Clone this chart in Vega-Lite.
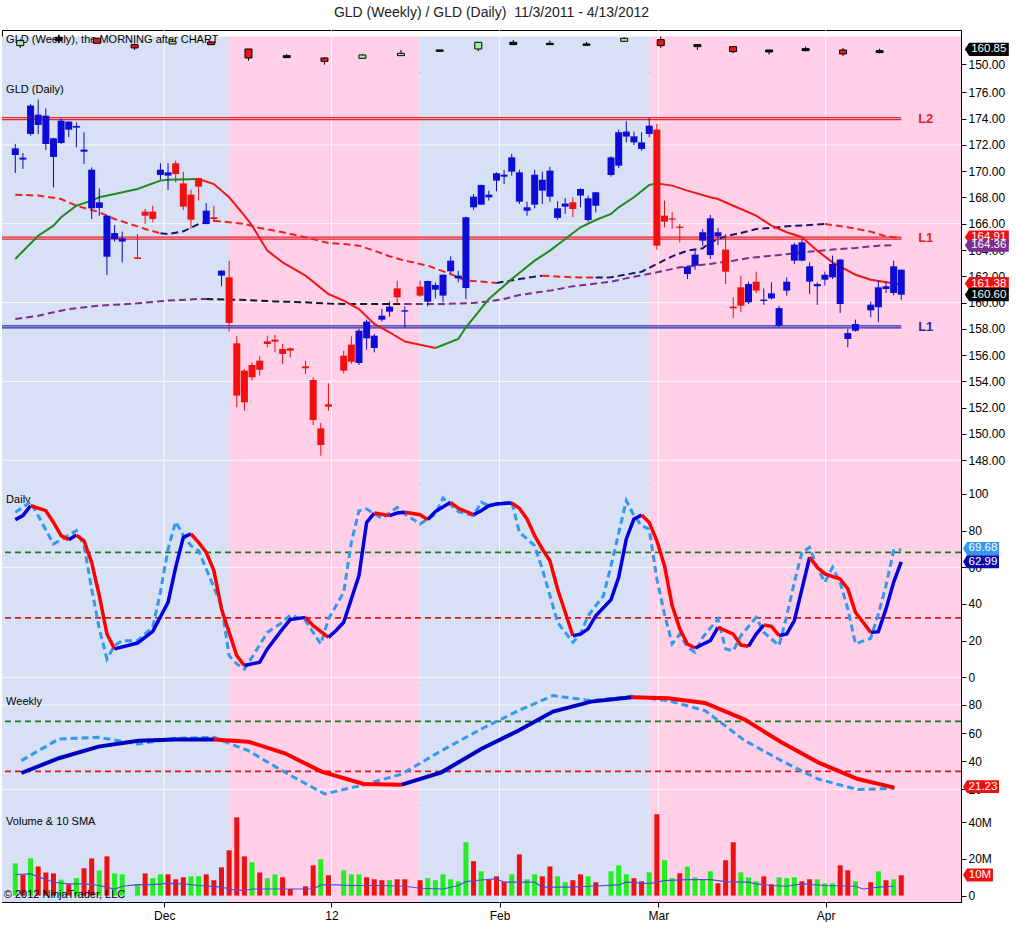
{
"$schema": "https://vega.github.io/schema/vega-lite/v6.json",
"background": "white",
"padding": {"left": 0, "top": 6, "right": 0, "bottom": 0},
"title": {"text": "GLD (Weekly) / GLD (Daily)\u00a0 11/3/2011 - 4/13/2012", "anchor": "middle", "frame": "group", "fontSize": 14, "fontWeight": "normal", "font": "Liberation Sans", "color": "#222222", "offset": 9, "dx": 10},
"bounds": "flush",
"spacing": 0,
"config": {
 "view": {"stroke": "#000000", "strokeWidth": 1},
 "axis": {"labelFont": "Liberation Sans", "labelFontSize": 12, "labelColor": "#000000", "domainColor": "#000000", "tickColor": "#000000", "tickSize": 5, "labelPadding": 2, "grid": false, "labelOverlap": false},
 "text": {"font": "Liberation Sans"}
},
"datasets": {
 "bands": [{"s": -1.74, "e": 28.1, "ph": "up"}, {"s": 28.1, "e": 52.9, "ph": "down"}, {"s": 52.9, "e": 83.0, "ph": "up"}, {"s": 83.0, "e": 123.82, "ph": "down"}],
 "months": [{"t": 19.5, "m": "Dec"}, {"t": 41.4, "m": "12"}, {"t": 63.4, "m": "Feb"}, {"t": 84.2, "m": "Mar"}, {"t": 106.1, "m": "Apr"}],
 "hgrid": [{"p": "price", "v": 148}, {"p": "price", "v": 154}, {"p": "price", "v": 160}, {"p": "price", "v": 166}, {"p": "price", "v": 172}, {"p": "d", "v": 0}, {"p": "d", "v": 60}, {"p": "w", "v": 20}, {"p": "w", "v": 80}],
 "labels": [{"p": "wk", "txt": "GLD (Weekly), the MORNING after CHART"}, {"p": "price", "txt": "GLD (Daily)"}, {"p": "d", "txt": "Daily"}, {"p": "w", "txt": "Weekly"}, {"p": "vol", "txt": "Volume & 10 SMA"}, {"p": "copy", "txt": "© 2012 NinjaTrader, LLC"}],
 "levels": [{"p": "price", "n": "L2", "v": 174.0, "k": "res"}, {"p": "price", "n": "L1", "v": 164.91, "k": "res"}, {"p": "price", "n": "L1", "v": 158.15, "k": "sup"}, {"p": "d", "n": "hi", "v": 68.2, "k": "ob"}, {"p": "d", "n": "lo", "v": 32.4, "k": "os"}, {"p": "w", "n": "hi", "v": 68.4, "k": "ob"}, {"p": "w", "n": "lo", "v": 32.8, "k": "os"}],
 "flags": [{"p": "wk", "v": 160.85, "txt": "160.85", "k": "close"}, {"p": "price", "v": 164.98, "txt": "164.91", "k": "sma2"}, {"p": "price", "v": 164.36, "txt": "164.36", "k": "sma3"}, {"p": "price", "v": 161.45, "txt": "161.38", "k": "sma1"}, {"p": "price", "v": 160.6, "txt": "160.60", "k": "close"}, {"p": "d", "v": 70.3, "txt": "69.68", "k": "stochD"}, {"p": "d", "v": 62.99, "txt": "62.99", "k": "stochK"}, {"p": "w", "v": 21.9, "txt": "21.23", "k": "wK"}, {"p": "vol", "v": 11.2, "txt": "10M", "k": "vol"}],
 "weekly": [
  {"wi": 0.65, "o": 163.55, "h": 168.47, "l": 161.83, "c": 167.24, "k": "up"},
  {"wi": 5.68, "o": 167.24, "h": 171.67, "l": 165.28, "c": 169.7, "k": "flat"},
  {"wi": 10.69, "o": 168.97, "h": 168.97, "l": 165.28, "c": 165.28, "k": "down"},
  {"wi": 15.62, "o": 164.29, "h": 165.28, "l": 160.36, "c": 161.83, "k": "down"},
  {"wi": 20.59, "o": 164.78, "h": 167.74, "l": 164.78, "c": 166.75, "k": "up"},
  {"wi": 25.64, "o": 166.26, "h": 166.26, "l": 164.29, "c": 164.29, "k": "down"},
  {"wi": 30.53, "o": 161.09, "h": 161.09, "l": 152.48, "c": 154.45, "k": "down"},
  {"wi": 35.54, "o": 156.17, "h": 157.4, "l": 154.7, "c": 154.7, "k": "flat"},
  {"wi": 40.48, "o": 154.45, "h": 154.94, "l": 149.53, "c": 151.99, "k": "down"},
  {"wi": 45.45, "o": 154.21, "h": 157.4, "l": 154.21, "c": 156.67, "k": "up"},
  {"wi": 50.5, "o": 156.17, "h": 160.36, "l": 156.17, "c": 157.9, "k": "up"},
  {"wi": 55.56, "o": 159.37, "h": 160.36, "l": 159.37, "c": 160.36, "k": "flat"},
  {"wi": 60.62, "o": 161.09, "h": 166.01, "l": 159.37, "c": 166.01, "k": "up"},
  {"wi": 65.2, "o": 164.29, "h": 167.74, "l": 164.29, "c": 166.01, "k": "flat"},
  {"wi": 69.99, "o": 164.29, "h": 167.24, "l": 164.29, "c": 165.28, "k": "flat"},
  {"wi": 74.79, "o": 163.8, "h": 166.26, "l": 163.8, "c": 164.78, "k": "flat"},
  {"wi": 79.72, "o": 166.75, "h": 169.7, "l": 166.75, "c": 168.97, "k": "up"},
  {"wi": 84.51, "o": 167.98, "h": 170.2, "l": 161.83, "c": 163.55, "k": "down"},
  {"wi": 89.31, "o": 164.29, "h": 164.29, "l": 160.36, "c": 162.82, "k": "flat"},
  {"wi": 93.98, "o": 162.82, "h": 162.82, "l": 157.9, "c": 159.13, "k": "down"},
  {"wi": 98.69, "o": 160.36, "h": 160.36, "l": 156.91, "c": 158.88, "k": "flat"},
  {"wi": 103.48, "o": 159.86, "h": 162.82, "l": 159.37, "c": 161.34, "k": "flat"},
  {"wi": 108.37, "o": 160.36, "h": 161.83, "l": 155.93, "c": 157.4, "k": "down"},
  {"wi": 113.16, "o": 159.86, "h": 161.34, "l": 157.9, "c": 158.39, "k": "flat"}
 ],
 "daily": [
  {"i":0,"o":171.23,"h":172.07,"l":169.86,"c":171.74,"sg":"b","vol":17.6,"vd":"g"},
  {"i":1,"o":170.88,"h":171.38,"l":170.17,"c":171.03,"sg":"b","vol":11.3,"vd":"r"},
  {"i":2,"o":172.83,"h":175.1,"l":172.7,"c":174.99,"sg":"b","vol":20.3,"vd":"g"},
  {"i":3,"o":173.51,"h":175.44,"l":172.83,"c":174.3,"sg":"b","vol":15.9,"vd":"r"},
  {"i":4,"o":172.07,"h":174.78,"l":171.61,"c":174.22,"sg":"b","vol":12.6,"vd":"r"},
  {"i":5,"o":171.08,"h":172.55,"l":168.77,"c":172.5,"sg":"b","vol":12.1,"vd":"r"},
  {"i":6,"o":172.14,"h":174.02,"l":172.07,"c":173.84,"sg":"b","vol":8.7,"vd":"g"},
  {"i":7,"o":173.16,"h":173.8,"l":172.58,"c":173.77,"sg":"b","vol":6.2,"vd":"r"},
  {"i":8,"o":173.31,"h":173.72,"l":171.81,"c":173.44,"sg":"b","vol":9.5,"vd":"g"},
  {"i":9,"o":171.48,"h":172.96,"l":170.55,"c":171.64,"sg":"b","vol":14.9,"vd":"r"},
  {"i":10,"o":167.17,"h":170.29,"l":166.36,"c":170.11,"sg":"b","vol":20.3,"vd":"r"},
  {"i":11,"o":167.2,"h":168.69,"l":166.61,"c":167.63,"sg":"b","vol":13.8,"vd":"g"},
  {"i":12,"o":163.49,"h":166.66,"l":162.1,"c":166.61,"sg":"b","vol":21.4,"vd":"r"},
  {"i":13,"o":164.84,"h":165.9,"l":164.64,"c":165.29,"sg":"b","vol":12.1,"vd":"g"},
  {"i":14,"o":164.64,"h":165.4,"l":163.06,"c":164.89,"sg":"b","vol":11.6,"vd":"g"},
  {"i":16,"o":163.44,"h":165.22,"l":163.3,"c":163.32,"sg":"s","vol":6.2,"vd":"g"},
  {"i":17,"o":166.92,"h":167.12,"l":165.98,"c":166.61,"sg":"s","vol":12.1,"vd":"r"},
  {"i":18,"o":166.92,"h":167.37,"l":166.11,"c":166.36,"sg":"s","vol":9.5,"vd":"g"},
  {"i":19,"o":169.71,"h":170.6,"l":169.35,"c":170.11,"sg":"b","vol":11.6,"vd":"g"},
  {"i":20,"o":169.66,"h":170.6,"l":168.57,"c":169.91,"sg":"b","vol":11.6,"vd":"r"},
  {"i":21,"o":170.6,"h":170.8,"l":169.15,"c":169.78,"sg":"s","vol":8.9,"vd":"r"},
  {"i":22,"o":169.07,"h":169.96,"l":167.05,"c":167.3,"sg":"s","vol":10.0,"vd":"r"},
  {"i":23,"o":168.21,"h":168.59,"l":165.6,"c":166.31,"sg":"s","vol":10.5,"vd":"g"},
  {"i":24,"o":169.46,"h":169.5,"l":167.76,"c":168.82,"sg":"s","vol":10.5,"vd":"g"},
  {"i":25,"o":165.98,"h":167.58,"l":165.95,"c":166.99,"sg":"b","vol":11.6,"vd":"r"},
  {"i":26,"o":166.49,"h":167.37,"l":166.16,"c":166.36,"sg":"s","vol":8.4,"vd":"r"},
  {"i":27,"o":162.05,"h":162.45,"l":161.24,"c":162.43,"sg":"b","vol":15.4,"vd":"r"},
  {"i":28,"o":161.92,"h":163.19,"l":157.79,"c":158.45,"sg":"s","vol":24.7,"vd":"r"},
  {"i":29,"o":156.9,"h":157.43,"l":152.03,"c":152.92,"sg":"s","vol":42.7,"vd":"r"},
  {"i":30,"o":154.82,"h":154.94,"l":151.77,"c":152.41,"sg":"s","vol":21.4,"vd":"r"},
  {"i":31,"o":155.25,"h":155.45,"l":154.06,"c":154.31,"sg":"s","vol":18.2,"vd":"g"},
  {"i":32,"o":155.58,"h":155.91,"l":154.44,"c":154.89,"sg":"s","vol":12.6,"vd":"r"},
  {"i":33,"o":157.05,"h":157.48,"l":156.59,"c":156.85,"sg":"s","vol":9.5,"vd":"g"},
  {"i":34,"o":157.18,"h":157.56,"l":156.21,"c":157.03,"sg":"s","vol":11.6,"vd":"g"},
  {"i":35,"o":156.47,"h":156.85,"l":155.33,"c":156.09,"sg":"s","vol":10.0,"vd":"r"},
  {"i":36,"o":156.52,"h":156.59,"l":155.83,"c":156.34,"sg":"s","vol":3.6,"vd":"r"},
  {"i":38,"o":155.15,"h":155.58,"l":154.56,"c":155.0,"sg":"s","vol":5.1,"vd":"r"},
  {"i":39,"o":154.11,"h":154.31,"l":150.68,"c":151.06,"sg":"s","vol":16.5,"vd":"r"},
  {"i":40,"o":150.43,"h":150.84,"l":148.35,"c":149.16,"sg":"s","vol":19.8,"vd":"g"},
  {"i":41,"o":152.26,"h":153.85,"l":151.77,"c":152.08,"sg":"s","vol":11.1,"vd":"r"},
  {"i":43,"o":155.96,"h":156.34,"l":154.61,"c":154.82,"sg":"s","vol":13.8,"vd":"g"},
  {"i":44,"o":156.8,"h":157.43,"l":155.33,"c":155.5,"sg":"s","vol":11.6,"vd":"g"},
  {"i":45,"o":155.4,"h":157.99,"l":155.25,"c":157.86,"sg":"b","vol":11.6,"vd":"g"},
  {"i":46,"o":157.28,"h":158.7,"l":156.42,"c":158.55,"sg":"b","vol":10.0,"vd":"r"},
  {"i":47,"o":156.54,"h":157.61,"l":156.21,"c":157.48,"sg":"b","vol":8.9,"vd":"r"},
  {"i":48,"o":158.7,"h":159.51,"l":158.55,"c":159.0,"sg":"b","vol":8.4,"vd":"r"},
  {"i":49,"o":159.31,"h":160.07,"l":158.93,"c":159.69,"sg":"b","vol":8.4,"vd":"g"},
  {"i":50,"o":161.08,"h":161.67,"l":159.89,"c":160.4,"sg":"s","vol":8.9,"vd":"r"},
  {"i":51,"o":159.31,"h":159.71,"l":158.12,"c":159.41,"sg":"b","vol":8.9,"vd":"r"},
  {"i":53,"o":161.21,"h":161.67,"l":160.45,"c":160.53,"sg":"s","vol":8.4,"vd":"r"},
  {"i":54,"o":160.07,"h":161.66,"l":159.71,"c":161.64,"sg":"b","vol":9.5,"vd":"g"},
  {"i":55,"o":160.98,"h":161.54,"l":160.32,"c":161.34,"sg":"b","vol":8.4,"vd":"g"},
  {"i":56,"o":160.53,"h":162.14,"l":160.02,"c":162.12,"sg":"b","vol":11.6,"vd":"g"},
  {"i":57,"o":162.38,"h":163.52,"l":162.25,"c":163.19,"sg":"b","vol":8.9,"vd":"g"},
  {"i":58,"o":161.84,"h":162.43,"l":161.54,"c":162.05,"sg":"b","vol":7.8,"vd":"g"},
  {"i":59,"o":161.11,"h":166.54,"l":160.27,"c":166.49,"sg":"b","vol":29.1,"vd":"g"},
  {"i":60,"o":167.25,"h":168.26,"l":167.07,"c":168.06,"sg":"b","vol":18.8,"vd":"r"},
  {"i":61,"o":167.45,"h":168.97,"l":167.43,"c":168.95,"sg":"b","vol":13.3,"vd":"g"},
  {"i":62,"o":168.01,"h":168.52,"l":167.76,"c":168.21,"sg":"b","vol":8.5,"vd":"r"},
  {"i":63,"o":169.28,"h":169.91,"l":168.47,"c":169.84,"sg":"b","vol":10.5,"vd":"r"},
  {"i":64,"o":169.58,"h":170.11,"l":169.02,"c":169.73,"sg":"b","vol":7.6,"vd":"r"},
  {"i":65,"o":169.96,"h":171.31,"l":169.66,"c":171.05,"sg":"b","vol":11.6,"vd":"g"},
  {"i":66,"o":167.68,"h":170.11,"l":167.5,"c":169.91,"sg":"b","vol":22.5,"vd":"r"},
  {"i":67,"o":166.99,"h":167.68,"l":166.61,"c":167.25,"sg":"b","vol":8.9,"vd":"g"},
  {"i":68,"o":167.45,"h":170.11,"l":167.17,"c":169.73,"sg":"b","vol":11.6,"vd":"g"},
  {"i":69,"o":168.52,"h":169.96,"l":167.5,"c":169.35,"sg":"b","vol":10.5,"vd":"r"},
  {"i":70,"o":168.06,"h":170.34,"l":167.68,"c":170.04,"sg":"b","vol":15.9,"vd":"r"},
  {"i":71,"o":166.44,"h":167.71,"l":166.31,"c":167.17,"sg":"b","vol":10.5,"vd":"g"},
  {"i":72,"o":167.3,"h":167.96,"l":166.74,"c":167.53,"sg":"b","vol":7.3,"vd":"g"},
  {"i":73,"o":167.63,"h":168.01,"l":166.49,"c":167.12,"sg":"s","vol":8.4,"vd":"r"},
  {"i":74,"o":168.14,"h":168.69,"l":167.25,"c":168.64,"sg":"b","vol":11.6,"vd":"r"},
  {"i":75,"o":166.28,"h":168.14,"l":166.16,"c":167.93,"sg":"b","vol":10.5,"vd":"g"},
  {"i":76,"o":167.37,"h":168.42,"l":166.87,"c":168.39,"sg":"b","vol":7.3,"vd":"r"},
  {"i":78,"o":169.71,"h":171.13,"l":169.58,"c":171.05,"sg":"b","vol":13.3,"vd":"g"},
  {"i":79,"o":170.42,"h":173.16,"l":170.22,"c":172.96,"sg":"b","vol":16.5,"vd":"g"},
  {"i":80,"o":172.63,"h":173.79,"l":172.19,"c":173.01,"sg":"b","vol":11.6,"vd":"g"},
  {"i":81,"o":172.19,"h":173.01,"l":171.99,"c":172.65,"sg":"b","vol":9.5,"vd":"r"},
  {"i":82,"o":171.69,"h":172.96,"l":171.56,"c":172.19,"sg":"b","vol":7.8,"vd":"r"},
  {"i":83,"o":172.83,"h":174.1,"l":172.58,"c":173.46,"sg":"b","vol":12.7,"vd":"g"},
  {"i":84,"o":173.16,"h":173.59,"l":164.03,"c":164.33,"sg":"s","vol":44.4,"vd":"r"},
  {"i":85,"o":166.61,"h":167.76,"l":165.73,"c":166.16,"sg":"s","vol":19.3,"vd":"g"},
  {"i":86,"o":166.41,"h":166.87,"l":165.6,"c":166.31,"sg":"s","vol":9.5,"vd":"g"},
  {"i":87,"o":165.78,"h":165.98,"l":164.58,"c":165.68,"sg":"s","vol":12.2,"vd":"r"},
  {"i":88,"o":162.17,"h":162.81,"l":161.79,"c":162.73,"sg":"b","vol":15.9,"vd":"g"},
  {"i":89,"o":162.81,"h":164.0,"l":162.5,"c":163.65,"sg":"b","vol":10.0,"vd":"g"},
  {"i":90,"o":164.71,"h":165.6,"l":164.33,"c":165.35,"sg":"b","vol":8.9,"vd":"g"},
  {"i":91,"o":163.62,"h":166.66,"l":163.32,"c":166.41,"sg":"b","vol":13.3,"vd":"g"},
  {"i":92,"o":165.04,"h":165.68,"l":164.38,"c":165.35,"sg":"b","vol":6.7,"vd":"r"},
  {"i":93,"o":164.03,"h":165.22,"l":161.41,"c":162.35,"sg":"s","vol":19.3,"vd":"r"},
  {"i":94,"o":159.69,"h":160.4,"l":158.83,"c":159.56,"sg":"s","vol":29.1,"vd":"r"},
  {"i":95,"o":161.16,"h":162.05,"l":159.26,"c":159.76,"sg":"s","vol":12.7,"vd":"g"},
  {"i":96,"o":160.02,"h":161.59,"l":159.89,"c":161.41,"sg":"b","vol":10.0,"vd":"g"},
  {"i":97,"o":161.59,"h":162.35,"l":160.73,"c":160.91,"sg":"s","vol":7.8,"vd":"g"},
  {"i":98,"o":160.12,"h":161.08,"l":159.82,"c":160.22,"sg":"b","vol":10.5,"vd":"r"},
  {"i":99,"o":160.32,"h":161.54,"l":160.22,"c":160.7,"sg":"b","vol":6.2,"vd":"r"},
  {"i":100,"o":158.24,"h":159.76,"l":158.12,"c":159.58,"sg":"b","vol":10.0,"vd":"g"},
  {"i":101,"o":160.91,"h":161.92,"l":160.53,"c":161.59,"sg":"b","vol":9.5,"vd":"g"},
  {"i":102,"o":163.19,"h":164.53,"l":162.94,"c":164.41,"sg":"b","vol":10.0,"vd":"g"},
  {"i":103,"o":163.19,"h":164.84,"l":163.14,"c":164.58,"sg":"b","vol":7.8,"vd":"r"},
  {"i":104,"o":161.59,"h":163.06,"l":160.65,"c":162.76,"sg":"b","vol":8.9,"vd":"r"},
  {"i":105,"o":161.24,"h":161.54,"l":159.82,"c":161.41,"sg":"b","vol":8.9,"vd":"g"},
  {"i":106,"o":161.74,"h":162.35,"l":161.29,"c":162.12,"sg":"b","vol":6.7,"vd":"g"},
  {"i":107,"o":161.92,"h":163.57,"l":161.79,"c":162.94,"sg":"b","vol":6.7,"vd":"g"},
  {"i":108,"o":159.89,"h":163.32,"l":159.21,"c":163.27,"sg":"b","vol":16.5,"vd":"r"},
  {"i":109,"o":157.23,"h":157.99,"l":156.59,"c":157.68,"sg":"b","vol":13.8,"vd":"r"},
  {"i":110,"o":157.86,"h":158.7,"l":157.79,"c":158.37,"sg":"b","vol":7.8,"vd":"g"},
  {"i":112,"o":159.41,"h":160.07,"l":158.88,"c":159.84,"sg":"b","vol":7.3,"vd":"r"},
  {"i":113,"o":159.64,"h":161.67,"l":158.5,"c":161.16,"sg":"b","vol":13.3,"vd":"g"},
  {"i":114,"o":161.03,"h":161.54,"l":160.73,"c":161.24,"sg":"b","vol":8.4,"vd":"r"},
  {"i":115,"o":160.73,"h":163.19,"l":160.55,"c":162.76,"sg":"b","vol":8.9,"vd":"g"},
  {"i":116,"o":162.5,"h":162.52,"l":160.22,"c":160.6,"sg":"b","vol":11.1,"vd":"r"}
 ],
 "ma": [
  {"m":1,"s":1,"t":"u","i":0,"v":163.32},{"m":1,"s":1,"t":"u","i":3,"v":165.09},{"m":1,"s":1,"t":"u","i":5,"v":165.85},{"m":1,"s":1,"t":"u","i":6,"v":166.49},{"m":1,"s":1,"t":"u","i":8,"v":167.37},{"m":1,"s":1,"t":"u","i":10,"v":167.76},{"m":1,"s":1,"t":"u","i":11,"v":168.01},{"m":1,"s":1,"t":"u","i":13,"v":168.26},{"m":1,"s":1,"t":"u","i":16,"v":168.64},{"m":1,"s":1,"t":"u","i":19,"v":169.28},{"m":1,"s":1,"t":"u","i":20,"v":169.35},{"m":1,"s":1,"t":"u","i":24,"v":169.4},
  {"m":1,"s":2,"t":"d","i":24,"v":169.4},{"m":1,"s":2,"t":"d","i":26,"v":169.02},{"m":1,"s":2,"t":"d","i":28,"v":168.01},{"m":1,"s":2,"t":"d","i":30,"v":166.61},{"m":1,"s":2,"t":"d","i":31,"v":165.85},{"m":1,"s":2,"t":"d","i":33,"v":163.95},{"m":1,"s":2,"t":"d","i":35,"v":163.06},{"m":1,"s":2,"t":"d","i":38,"v":162.05},{"m":1,"s":2,"t":"d","i":41,"v":160.65},{"m":1,"s":2,"t":"d","i":43,"v":160.15},{"m":1,"s":2,"t":"d","i":45,"v":159.51},{"m":1,"s":2,"t":"d","i":47,"v":158.37},{"m":1,"s":2,"t":"d","i":49,"v":157.74},{"m":1,"s":2,"t":"d","i":51,"v":157.03},{"m":1,"s":2,"t":"d","i":55,"v":156.54},
  {"m":1,"s":3,"t":"u","i":55,"v":156.54},{"m":1,"s":3,"t":"u","i":58,"v":157.23},{"m":1,"s":3,"t":"u","i":59,"v":158.12},{"m":1,"s":3,"t":"u","i":62,"v":160.27},{"m":1,"s":3,"t":"u","i":65,"v":161.79},{"m":1,"s":3,"t":"u","i":68,"v":163.19},{"m":1,"s":3,"t":"u","i":70,"v":163.95},{"m":1,"s":3,"t":"u","i":72,"v":164.84},{"m":1,"s":3,"t":"u","i":74,"v":165.73},{"m":1,"s":3,"t":"u","i":76,"v":166.28},{"m":1,"s":3,"t":"u","i":78,"v":166.74},{"m":1,"s":3,"t":"u","i":79,"v":167.25},{"m":1,"s":3,"t":"u","i":81,"v":168.01},{"m":1,"s":3,"t":"u","i":83,"v":168.95},{"m":1,"s":3,"t":"u","i":84,"v":169.07},
  {"m":1,"s":4,"t":"d","i":84,"v":169.07},{"m":1,"s":4,"t":"d","i":86,"v":168.9},{"m":1,"s":4,"t":"d","i":88,"v":168.52},{"m":1,"s":4,"t":"d","i":91,"v":168.01},{"m":1,"s":4,"t":"d","i":92,"v":167.88},{"m":1,"s":4,"t":"d","i":94,"v":167.37},{"m":1,"s":4,"t":"d","i":95,"v":167.12},{"m":1,"s":4,"t":"d","i":97,"v":166.61},{"m":1,"s":4,"t":"d","i":99,"v":165.85},{"m":1,"s":4,"t":"d","i":101,"v":165.35},{"m":1,"s":4,"t":"d","i":103,"v":164.97},{"m":1,"s":4,"t":"d","i":105,"v":163.95},{"m":1,"s":4,"t":"d","i":107,"v":163.06},{"m":1,"s":4,"t":"d","i":110,"v":162.12},{"m":1,"s":4,"t":"d","i":112,"v":161.74},{"m":1,"s":4,"t":"d","i":116,"v":161.38},
  {"m":2,"s":5,"t":"d","i":0,"v":168.21},{"m":2,"s":5,"t":"d","i":3,"v":168.14},{"m":2,"s":5,"t":"d","i":6,"v":167.88},{"m":2,"s":5,"t":"d","i":8,"v":167.37},{"m":2,"s":5,"t":"d","i":11,"v":166.87},{"m":2,"s":5,"t":"d","i":13,"v":166.36},{"m":2,"s":5,"t":"d","i":15,"v":165.98},{"m":2,"s":5,"t":"d","i":17,"v":165.6},{"m":2,"s":5,"t":"d","i":19,"v":165.27},
  {"m":2,"s":6,"t":"u","i":19,"v":165.27},{"m":2,"s":6,"t":"u","i":20,"v":165.22},{"m":2,"s":6,"t":"u","i":22,"v":165.42},{"m":2,"s":6,"t":"u","i":24,"v":165.98},{"m":2,"s":6,"t":"u","i":26,"v":166.23},
  {"m":2,"s":7,"t":"d","i":26,"v":166.23},{"m":2,"s":7,"t":"d","i":28,"v":166.11},{"m":2,"s":7,"t":"d","i":30,"v":165.98},{"m":2,"s":7,"t":"d","i":32,"v":165.68},{"m":2,"s":7,"t":"d","i":35,"v":165.35},{"m":2,"s":7,"t":"d","i":38,"v":164.97},{"m":2,"s":7,"t":"d","i":41,"v":164.53},{"m":2,"s":7,"t":"d","i":43,"v":164.46},{"m":2,"s":7,"t":"d","i":45,"v":164.33},{"m":2,"s":7,"t":"d","i":47,"v":163.95},{"m":2,"s":7,"t":"d","i":49,"v":163.52},{"m":2,"s":7,"t":"d","i":51,"v":163.19},{"m":2,"s":7,"t":"d","i":54,"v":162.81},{"m":2,"s":7,"t":"d","i":57,"v":162.17},{"m":2,"s":7,"t":"d","i":59,"v":161.67},{"m":2,"s":7,"t":"d","i":61,"v":161.6},{"m":2,"s":7,"t":"d","i":63,"v":161.49},
  {"m":2,"s":8,"t":"u","i":63,"v":161.49},{"m":2,"s":8,"t":"u","i":64,"v":161.59},{"m":2,"s":8,"t":"u","i":66,"v":161.79},{"m":2,"s":8,"t":"u","i":69,"v":162.05},
  {"m":2,"s":9,"t":"d","i":69,"v":162.05},{"m":2,"s":9,"t":"d","i":73,"v":161.92},{"m":2,"s":9,"t":"d","i":76,"v":161.9},
  {"m":2,"s":10,"t":"u","i":76,"v":161.9},{"m":2,"s":10,"t":"u","i":78,"v":161.92},{"m":2,"s":10,"t":"u","i":82,"v":162.35},{"m":2,"s":10,"t":"u","i":84,"v":162.94},{"m":2,"s":10,"t":"u","i":86,"v":163.52},{"m":2,"s":10,"t":"u","i":88,"v":163.95},{"m":2,"s":10,"t":"u","i":90,"v":164.13},{"m":2,"s":10,"t":"u","i":91,"v":164.58},{"m":2,"s":10,"t":"u","i":93,"v":165.04},{"m":2,"s":10,"t":"u","i":95,"v":165.3},{"m":2,"s":10,"t":"u","i":97,"v":165.6},{"m":2,"s":10,"t":"u","i":99,"v":165.68},{"m":2,"s":10,"t":"u","i":101,"v":165.8},{"m":2,"s":10,"t":"u","i":104,"v":165.9},{"m":2,"s":10,"t":"u","i":106,"v":165.98},
  {"m":2,"s":11,"t":"d","i":106,"v":165.98},{"m":2,"s":11,"t":"d","i":109,"v":165.73},{"m":2,"s":11,"t":"d","i":112,"v":165.4},{"m":2,"s":11,"t":"d","i":114,"v":165.04},{"m":2,"s":11,"t":"d","i":116,"v":164.91},
  {"m":3,"s":12,"t":"u","i":0,"v":158.75},{"m":3,"s":12,"t":"u","i":3,"v":159.0},{"m":3,"s":12,"t":"u","i":7,"v":159.51},{"m":3,"s":12,"t":"u","i":11,"v":159.76},{"m":3,"s":12,"t":"u","i":16,"v":159.94},{"m":3,"s":12,"t":"u","i":20,"v":160.15},{"m":3,"s":12,"t":"u","i":24,"v":160.27},{"m":3,"s":12,"t":"u","i":25,"v":160.27},
  {"m":3,"s":13,"t":"d","i":25,"v":160.27},{"m":3,"s":13,"t":"d","i":29,"v":160.22},{"m":3,"s":13,"t":"d","i":34,"v":160.09},{"m":3,"s":13,"t":"d","i":38,"v":160.02},{"m":3,"s":13,"t":"d","i":41,"v":159.92},{"m":3,"s":13,"t":"d","i":44,"v":159.89},{"m":3,"s":13,"t":"d","i":47,"v":159.89},{"m":3,"s":13,"t":"d","i":51,"v":159.89},
  {"m":3,"s":14,"t":"u","i":51,"v":159.89},{"m":3,"s":14,"t":"u","i":56,"v":159.89},{"m":3,"s":14,"t":"u","i":60,"v":159.97},{"m":3,"s":14,"t":"u","i":62,"v":160.09},{"m":3,"s":14,"t":"u","i":64,"v":160.27},{"m":3,"s":14,"t":"u","i":66,"v":160.58},{"m":3,"s":14,"t":"u","i":70,"v":160.91},{"m":3,"s":14,"t":"u","i":73,"v":161.24},{"m":3,"s":14,"t":"u","i":78,"v":161.59},{"m":3,"s":14,"t":"u","i":81,"v":161.97},{"m":3,"s":14,"t":"u","i":84,"v":162.3},{"m":3,"s":14,"t":"u","i":87,"v":162.68},{"m":3,"s":14,"t":"u","i":91,"v":162.94},{"m":3,"s":14,"t":"u","i":94,"v":163.19},{"m":3,"s":14,"t":"u","i":96,"v":163.39},{"m":3,"s":14,"t":"u","i":100,"v":163.62},{"m":3,"s":14,"t":"u","i":103,"v":163.82},{"m":3,"s":14,"t":"u","i":107,"v":164.03},{"m":3,"s":14,"t":"u","i":110,"v":164.15},{"m":3,"s":14,"t":"u","i":113,"v":164.33},{"m":3,"s":14,"t":"u","i":115,"v":164.36}
 ],
 "stoch": [
  {"p":"d","s":1,"t":"u","i":0,"v":86.0},{"p":"d","s":1,"t":"u","i":1,"v":88.2},{"p":"d","s":1,"t":"u","i":2,"v":93.6},
  {"p":"d","s":2,"t":"d","i":2,"v":93.6},{"p":"d","s":2,"t":"d","i":4,"v":90.9},{"p":"d","s":2,"t":"d","i":5,"v":84.5},{"p":"d","s":2,"t":"d","i":6,"v":77.3},{"p":"d","s":2,"t":"d","i":7,"v":75.1},
  {"p":"d","s":3,"t":"u","i":7,"v":75.1},{"p":"d","s":3,"t":"u","i":8,"v":77.6},
  {"p":"d","s":4,"t":"d","i":8,"v":77.6},{"p":"d","s":4,"t":"d","i":9,"v":74.5},{"p":"d","s":4,"t":"d","i":10,"v":62.7},{"p":"d","s":4,"t":"d","i":11,"v":44.5},{"p":"d","s":4,"t":"d","i":12,"v":23.6},{"p":"d","s":4,"t":"d","i":13,"v":15.5},
  {"p":"d","s":5,"t":"u","i":13,"v":15.5},{"p":"d","s":5,"t":"u","i":16,"v":18.7},{"p":"d","s":5,"t":"u","i":18,"v":25.1},{"p":"d","s":5,"t":"u","i":20,"v":40.9},{"p":"d","s":5,"t":"u","i":21,"v":60.0},{"p":"d","s":5,"t":"u","i":22,"v":76.4},{"p":"d","s":5,"t":"u","i":23,"v":78.2},
  {"p":"d","s":6,"t":"d","i":23,"v":78.2},{"p":"d","s":6,"t":"d","i":24,"v":73.6},{"p":"d","s":6,"t":"d","i":25,"v":68.2},{"p":"d","s":6,"t":"d","i":26,"v":58.2},{"p":"d","s":6,"t":"d","i":27,"v":37.3},{"p":"d","s":6,"t":"d","i":28,"v":24.5},{"p":"d","s":6,"t":"d","i":29,"v":11.8},{"p":"d","s":6,"t":"d","i":30,"v":6.4},
  {"p":"d","s":7,"t":"u","i":30,"v":6.4},{"p":"d","s":7,"t":"u","i":32,"v":8.2},{"p":"d","s":7,"t":"u","i":33,"v":15.5},{"p":"d","s":7,"t":"u","i":35,"v":26.4},{"p":"d","s":7,"t":"u","i":36,"v":31.5},{"p":"d","s":7,"t":"u","i":38,"v":32.7},
  {"p":"d","s":8,"t":"d","i":38,"v":32.7},{"p":"d","s":8,"t":"d","i":39,"v":28.2},{"p":"d","s":8,"t":"d","i":41,"v":21.8},
  {"p":"d","s":9,"t":"u","i":41,"v":21.8},{"p":"d","s":9,"t":"u","i":42,"v":25.5},{"p":"d","s":9,"t":"u","i":43,"v":30.0},{"p":"d","s":9,"t":"u","i":45,"v":55.5},{"p":"d","s":9,"t":"u","i":46,"v":84.5},{"p":"d","s":9,"t":"u","i":47,"v":89.6},
  {"p":"d","s":10,"t":"d","i":47,"v":89.6},{"p":"d","s":10,"t":"d","i":49,"v":88.2},
  {"p":"d","s":11,"t":"u","i":49,"v":88.2},{"p":"d","s":11,"t":"u","i":50,"v":89.6},{"p":"d","s":11,"t":"u","i":51,"v":90.0},
  {"p":"d","s":12,"t":"d","i":51,"v":90.0},{"p":"d","s":12,"t":"d","i":53,"v":88.7},{"p":"d","s":12,"t":"d","i":54,"v":86.0},
  {"p":"d","s":13,"t":"u","i":54,"v":86.0},{"p":"d","s":13,"t":"u","i":55,"v":90.4},{"p":"d","s":13,"t":"u","i":57,"v":95.5},
  {"p":"d","s":14,"t":"d","i":57,"v":95.5},{"p":"d","s":14,"t":"d","i":58,"v":92.2},{"p":"d","s":14,"t":"d","i":60,"v":88.7},
  {"p":"d","s":15,"t":"u","i":60,"v":88.7},{"p":"d","s":15,"t":"u","i":61,"v":90.9},{"p":"d","s":15,"t":"u","i":62,"v":93.6},{"p":"d","s":15,"t":"u","i":63,"v":94.5},{"p":"d","s":15,"t":"u","i":65,"v":95.1},
  {"p":"d","s":16,"t":"d","i":65,"v":95.1},{"p":"d","s":16,"t":"d","i":66,"v":92.2},{"p":"d","s":16,"t":"d","i":67,"v":86.4},{"p":"d","s":16,"t":"d","i":68,"v":77.3},{"p":"d","s":16,"t":"d","i":69,"v":70.0},{"p":"d","s":16,"t":"d","i":70,"v":63.6},{"p":"d","s":16,"t":"d","i":71,"v":48.2},{"p":"d","s":16,"t":"d","i":72,"v":35.5},{"p":"d","s":16,"t":"d","i":73,"v":22.7},
  {"p":"d","s":17,"t":"u","i":73,"v":22.7},{"p":"d","s":17,"t":"u","i":74,"v":23.5},{"p":"d","s":17,"t":"u","i":75,"v":26.4},{"p":"d","s":17,"t":"u","i":76,"v":33.6},{"p":"d","s":17,"t":"u","i":78,"v":42.4},{"p":"d","s":17,"t":"u","i":79,"v":54.5},{"p":"d","s":17,"t":"u","i":80,"v":75.5},{"p":"d","s":17,"t":"u","i":81,"v":86.4},{"p":"d","s":17,"t":"u","i":82,"v":88.5},
  {"p":"d","s":18,"t":"d","i":82,"v":88.5},{"p":"d","s":18,"t":"d","i":83,"v":84.5},{"p":"d","s":18,"t":"d","i":84,"v":74.5},{"p":"d","s":18,"t":"d","i":85,"v":60.9},{"p":"d","s":18,"t":"d","i":86,"v":39.1},{"p":"d","s":18,"t":"d","i":87,"v":26.4},{"p":"d","s":18,"t":"d","i":88,"v":18.2},{"p":"d","s":18,"t":"d","i":89,"v":16.0},
  {"p":"d","s":19,"t":"u","i":89,"v":16.0},{"p":"d","s":19,"t":"u","i":91,"v":20.0},{"p":"d","s":19,"t":"u","i":92,"v":27.3},
  {"p":"d","s":20,"t":"d","i":92,"v":27.3},{"p":"d","s":20,"t":"d","i":94,"v":23.6},{"p":"d","s":20,"t":"d","i":95,"v":17.6},{"p":"d","s":20,"t":"d","i":96,"v":16.9},
  {"p":"d","s":21,"t":"u","i":96,"v":16.9},{"p":"d","s":21,"t":"u","i":97,"v":23.6},{"p":"d","s":21,"t":"u","i":98,"v":28.5},
  {"p":"d","s":22,"t":"d","i":98,"v":28.5},{"p":"d","s":22,"t":"d","i":99,"v":27.8},{"p":"d","s":22,"t":"d","i":100,"v":22.7},
  {"p":"d","s":23,"t":"u","i":100,"v":22.7},{"p":"d","s":23,"t":"u","i":101,"v":23.6},{"p":"d","s":23,"t":"u","i":102,"v":30.9},{"p":"d","s":23,"t":"u","i":103,"v":48.2},{"p":"d","s":23,"t":"u","i":104,"v":65.5},
  {"p":"d","s":24,"t":"d","i":104,"v":65.5},{"p":"d","s":24,"t":"d","i":105,"v":60.0},{"p":"d","s":24,"t":"d","i":106,"v":56.4},{"p":"d","s":24,"t":"d","i":108,"v":53.6},{"p":"d","s":24,"t":"d","i":109,"v":48.2},{"p":"d","s":24,"t":"d","i":110,"v":35.5},{"p":"d","s":24,"t":"d","i":111,"v":30.0},{"p":"d","s":24,"t":"d","i":112,"v":24.5},
  {"p":"d","s":25,"t":"u","i":112,"v":24.5},{"p":"d","s":25,"t":"u","i":113,"v":24.9},{"p":"d","s":25,"t":"u","i":114,"v":37.3},{"p":"d","s":25,"t":"u","i":115,"v":51.8},{"p":"d","s":25,"t":"u","i":116,"v":62.99},
  {"p":"w","s":26,"t":"u","i":0.8,"v":31.6},{"p":"w","s":26,"t":"u","i":5.7,"v":42.1},{"p":"w","s":26,"t":"u","i":10.9,"v":50.4},{"p":"w","s":26,"t":"u","i":16.1,"v":54.6},{"p":"w","s":26,"t":"u","i":20.9,"v":55.4},{"p":"w","s":26,"t":"u","i":26.0,"v":55.4},
  {"p":"w","s":27,"t":"d","i":26.0,"v":55.4},{"p":"w","s":27,"t":"d","i":30.5,"v":53.9},{"p":"w","s":27,"t":"d","i":35.3,"v":45.6},{"p":"w","s":27,"t":"d","i":40.1,"v":32.6},{"p":"w","s":27,"t":"d","i":45.6,"v":23.8},{"p":"w","s":27,"t":"d","i":50.6,"v":23.3},
  {"p":"w","s":28,"t":"u","i":50.6,"v":23.3},{"p":"w","s":28,"t":"u","i":55.8,"v":32.1},{"p":"w","s":28,"t":"u","i":61.0,"v":48.7},{"p":"w","s":28,"t":"u","i":65.9,"v":61.8},{"p":"w","s":28,"t":"u","i":70.4,"v":75.3},{"p":"w","s":28,"t":"u","i":75.4,"v":82.4},{"p":"w","s":28,"t":"u","i":80.7,"v":85.5},
  {"p":"w","s":29,"t":"d","i":80.7,"v":85.5},{"p":"w","s":29,"t":"d","i":85.5,"v":84.8},{"p":"w","s":29,"t":"d","i":90.3,"v":81.4},{"p":"w","s":29,"t":"d","i":95.5,"v":69.6},{"p":"w","s":29,"t":"d","i":100.3,"v":53.5},{"p":"w","s":29,"t":"d","i":105.1,"v":39.2},{"p":"w","s":29,"t":"d","i":110.3,"v":27.3},{"p":"w","s":29,"t":"d","i":115.1,"v":21.23}
 ],
 "stochd": [
  {"p":"d","i":0,"v":90.0},{"p":"d","i":1,"v":92.7},{"p":"d","i":2,"v":95.8},{"p":"d","i":5,"v":72.7},{"p":"d","i":6,"v":75.1},{"p":"d","i":8,"v":80.0},{"p":"d","i":9,"v":71.8},{"p":"d","i":10,"v":48.2},{"p":"d","i":11,"v":26.4},{"p":"d","i":12,"v":10.0},{"p":"d","i":13,"v":17.3},{"p":"d","i":14,"v":20.0},{"p":"d","i":16,"v":20.0},{"p":"d","i":18,"v":27.3},{"p":"d","i":19,"v":46.4},{"p":"d","i":20,"v":70.0},{"p":"d","i":21,"v":84.9},{"p":"d","i":22,"v":77.3},{"p":"d","i":23,"v":71.8},{"p":"d","i":24,"v":69.1},{"p":"d","i":25,"v":59.1},{"p":"d","i":27,"v":39.1},{"p":"d","i":28,"v":11.8},{"p":"d","i":29,"v":7.3},{"p":"d","i":30,"v":4.5},{"p":"d","i":31,"v":10.9},{"p":"d","i":33,"v":24.5},{"p":"d","i":35,"v":30.0},{"p":"d","i":36,"v":34.0},{"p":"d","i":38,"v":30.9},{"p":"d","i":39,"v":24.5},{"p":"d","i":40,"v":18.2},{"p":"d","i":41,"v":31.8},{"p":"d","i":43,"v":46.4},{"p":"d","i":44,"v":73.6},{"p":"d","i":45,"v":90.9},{"p":"d","i":46,"v":91.8},{"p":"d","i":48,"v":86.7},{"p":"d","i":50,"v":92.7},{"p":"d","i":51,"v":89.1},{"p":"d","i":53,"v":83.6},{"p":"d","i":55,"v":89.1},{"p":"d","i":56,"v":97.8},{"p":"d","i":58,"v":90.4},{"p":"d","i":60,"v":88.2},{"p":"d","i":61,"v":95.5},{"p":"d","i":62,"v":93.6},{"p":"d","i":63,"v":94.5},{"p":"d","i":65,"v":95.8},{"p":"d","i":66,"v":79.1},{"p":"d","i":68,"v":71.8},{"p":"d","i":69,"v":59.1},{"p":"d","i":71,"v":30.0},{"p":"d","i":72,"v":24.5},{"p":"d","i":73,"v":19.1},{"p":"d","i":74,"v":23.6},{"p":"d","i":75,"v":33.6},{"p":"d","i":77,"v":44.5},{"p":"d","i":78,"v":60.9},{"p":"d","i":80,"v":96.4},{"p":"d","i":81,"v":88.2},{"p":"d","i":82,"v":82.7},{"p":"d","i":83,"v":80.9},{"p":"d","i":84,"v":53.6},{"p":"d","i":85,"v":34.5},{"p":"d","i":86,"v":18.2},{"p":"d","i":87,"v":23.6},{"p":"d","i":88,"v":16.4},{"p":"d","i":89,"v":13.6},{"p":"d","i":90,"v":21.8},{"p":"d","i":92,"v":31.8},{"p":"d","i":93,"v":15.5},{"p":"d","i":94,"v":14.5},{"p":"d","i":95,"v":22.7},{"p":"d","i":97,"v":32.7},{"p":"d","i":98,"v":24.5},{"p":"d","i":100,"v":17.3},{"p":"d","i":101,"v":33.6},{"p":"d","i":102,"v":51.8},{"p":"d","i":103,"v":68.2},{"p":"d","i":104,"v":70.9},{"p":"d","i":105,"v":60.0},{"p":"d","i":106,"v":51.8},{"p":"d","i":107,"v":60.0},{"p":"d","i":108,"v":51.8},{"p":"d","i":109,"v":37.3},{"p":"d","i":110,"v":18.2},{"p":"d","i":112,"v":21.3},{"p":"d","i":113,"v":34.5},{"p":"d","i":114,"v":50.0},{"p":"d","i":115,"v":69.1},{"p":"d","i":116,"v":69.68},
  {"p":"w","i":0.8,"v":40.4},{"p":"w","i":5.7,"v":55.8},{"p":"w","i":10.9,"v":57.0},{"p":"w","i":16.1,"v":52.2},{"p":"w","i":20.9,"v":56.3},{"p":"w","i":26.0,"v":57.0},{"p":"w","i":30.5,"v":47.5},{"p":"w","i":35.3,"v":32.1},{"p":"w","i":40.5,"v":16.7},{"p":"w","i":45.6,"v":23.1},{"p":"w","i":50.6,"v":30.9},{"p":"w","i":55.8,"v":47.5},{"p":"w","i":61.0,"v":62.9},{"p":"w","i":65.9,"v":76.0},{"p":"w","i":70.4,"v":86.7},{"p":"w","i":75.4,"v":83.1},{"p":"w","i":80.7,"v":86.2},{"p":"w","i":85.5,"v":83.1},{"p":"w","i":90.3,"v":76.0},{"p":"w","i":95.5,"v":54.7},{"p":"w","i":100.3,"v":40.4},{"p":"w","i":105.1,"v":27.3},{"p":"w","i":110.3,"v":19.8},{"p":"w","i":115.1,"v":20.7}
 ],
 "vsma": [
  {"i":0,"v":11.5},{"i":2,"v":11.8},{"i":5,"v":7.3},{"i":7,"v":6.4},{"i":9,"v":6.4},{"i":11,"v":5.5},{"i":13,"v":3.6},{"i":14,"v":5.1},{"i":16,"v":6.0},{"i":18,"v":6.0},{"i":20,"v":6.7},{"i":22,"v":6.4},{"i":24,"v":5.5},{"i":27,"v":4.6},{"i":29,"v":2.8},{"i":30,"v":2.8},{"i":31,"v":3.6},{"i":34,"v":3.6},{"i":36,"v":3.6},{"i":39,"v":3.6},{"i":40,"v":5.8},{"i":42,"v":5.8},{"i":44,"v":5.5},{"i":46,"v":5.5},{"i":48,"v":5.5},{"i":51,"v":5.1},{"i":53,"v":4.0},{"i":56,"v":3.6},{"i":58,"v":5.5},{"i":59,"v":7.6},{"i":61,"v":8.5},{"i":63,"v":9.1},{"i":64,"v":7.3},{"i":68,"v":7.3},{"i":69,"v":4.6},{"i":73,"v":4.6},{"i":75,"v":5.1},{"i":79,"v":5.8},{"i":80,"v":7.3},{"i":83,"v":6.5},{"i":85,"v":8.2},{"i":88,"v":8.7},{"i":91,"v":8.7},{"i":93,"v":7.6},{"i":96,"v":7.3},{"i":97,"v":6.4},{"i":99,"v":5.5},{"i":101,"v":5.1},{"i":103,"v":6.4},{"i":106,"v":5.5},{"i":110,"v":5.1},{"i":111,"v":3.6},{"i":113,"v":4.6},{"i":115,"v":5.1}
 ]
},
"vconcat": [
 {
  "width": 959, "height": 42,
  "resolve": {"scale": {"color": "independent"}},
  "layer": [
   {"data": {"name": "bands"}, "mark": {"type": "rect"},
    "encoding": {"x": {"field": "s", "type": "quantitative", "scale": {"domain": [-1.74, 123.82], "nice": false, "zero": false, "padding": 0}, "axis": null}, "x2": {"field": "e"},
     "y": {"datum": 170.22, "type": "quantitative", "scale": {"domain": [144.1, 175.09], "nice": false, "zero": false, "padding": 0}, "axis": {"orient": "right", "values": [150], "tickCount": 50, "format": ".2f", "title": null, "labelOverlap": false}},
     "y2": {"datum": 144.1},
     "color": {"field": "ph", "type": "nominal", "scale": {"domain": ["up", "down"], "range": ["#d8e0f5", "#ffd0e8"]}, "legend": null}}},
   {"data": {"name": "months"}, "mark": {"type": "rule", "color": "#ffffff", "strokeWidth": 1, "opacity": 0.8},
    "encoding": {"x": {"field": "t", "type": "quantitative", "scale": {"domain": [-1.74, 123.82], "nice": false, "zero": false, "padding": 0}, "axis": null}}},
   {"data": {"name": "labels"}, "transform": [{"filter": "datum.p == 'wk'"}], "mark": {"type": "text", "align": "left", "baseline": "middle", "fontSize": 11, "color": "#000000"},
    "encoding": {"x": {"datum": -1.2, "type": "quantitative", "scale": {"domain": [-1.74, 123.82], "nice": false, "zero": false, "padding": 0}, "axis": null}, "y": {"datum": 167.5, "type": "quantitative"}, "text": {"field": "txt"}}},
   {"data": {"name": "weekly"}, "mark": {"type": "rule", "color": "#000000", "strokeWidth": 1},
    "encoding": {"x": {"field": "wi", "type": "quantitative", "scale": {"domain": [-1.74, 123.82], "nice": false, "zero": false, "padding": 0}, "axis": null}, "y": {"field": "l", "type": "quantitative"}, "y2": {"field": "h"}}},
   {"data": {"name": "weekly"}, "mark": {"type": "bar", "size": 7, "stroke": "#000000", "strokeWidth": 1},
    "encoding": {"x": {"field": "wi", "type": "quantitative", "scale": {"domain": [-1.74, 123.82], "nice": false, "zero": false, "padding": 0}, "axis": null}, "y": {"field": "o", "type": "quantitative"}, "y2": {"field": "c"},
     "color": {"field": "k", "type": "nominal", "scale": {"domain": ["up", "down", "flat"], "range": ["#a4eea4", "#e81818", "#111111"]}, "legend": null}}},
   {"data": {"name": "flags"}, "transform": [{"filter": "datum.p == 'wk'"}], "mark": {"type": "point", "shape": "M-1,0L-0.8,-0.3L1,-0.3L1,0.3L-0.8,0.3Z", "size": 1936, "filled": true, "opacity": 1, "clip": false},
    "encoding": {"x": {"datum": 127.2, "type": "quantitative", "scale": {"domain": [-1.74, 123.82], "nice": false, "zero": false, "padding": 0}, "axis": null}, "y": {"field": "v", "type": "quantitative"},
     "color": {"field": "k", "type": "nominal", "scale": {"domain": ["close", "sma1", "sma2", "sma3", "stochD", "stochK", "wK", "vol"], "range": ["#000000", "#ee1111", "#ee1111", "#7e2d8c", "#3399ee", "#0a0aa8", "#ee1111", "#ee1111"]}, "legend": null}}},
   {"data": {"name": "flags"}, "transform": [{"filter": "datum.p == 'wk'"}], "mark": {"type": "text", "color": "#ffffff", "fontSize": 11.5, "align": "center", "baseline": "middle", "dx": 2, "clip": false},
    "encoding": {"x": {"datum": 127.2, "type": "quantitative", "scale": {"domain": [-1.74, 123.82], "nice": false, "zero": false, "padding": 0}, "axis": null}, "y": {"field": "v", "type": "quantitative"}, "text": {"field": "txt"}}}
  ]
 },
 {
  "width": 959, "height": 411,
  "resolve": {"scale": {"color": "independent"}},
  "layer": [
   {"data": {"name": "bands"}, "mark": {"type": "rect"},
    "encoding": {"x": {"field": "s", "type": "quantitative", "scale": {"domain": [-1.74, 123.82], "nice": false, "zero": false, "padding": 0}, "axis": null}, "x2": {"field": "e"},
     "y": {"datum": 177.545, "type": "quantitative", "scale": {"domain": [146.27, 177.545], "nice": false, "zero": false, "padding": 0}, "axis": {"orient": "right", "values": [148,150,152,154,156,158,160,162,164,166,168,170,172,174,176], "tickCount": 50, "format": ".2f", "title": null, "labelOverlap": false}},
     "y2": {"datum": 146.27},
     "color": {"field": "ph", "type": "nominal", "scale": {"domain": ["up", "down"], "range": ["#d8e0f5", "#ffd0e8"]}, "legend": null}}},
   {"data": {"name": "hgrid"}, "transform": [{"filter": "datum.p == 'price'"}], "mark": {"type": "rule", "color": "#ffffff", "strokeWidth": 1, "opacity": 0.8},
    "encoding": {"y": {"field": "v", "type": "quantitative"}}},
   {"data": {"name": "months"}, "mark": {"type": "rule", "color": "#ffffff", "strokeWidth": 1, "opacity": 0.8},
    "encoding": {"x": {"field": "t", "type": "quantitative", "scale": {"domain": [-1.74, 123.82], "nice": false, "zero": false, "padding": 0}, "axis": null}}},
   {"data": {"name": "labels"}, "transform": [{"filter": "datum.p == 'price'"}], "mark": {"type": "text", "align": "left", "baseline": "middle", "fontSize": 11, "color": "#000000"},
    "encoding": {"x": {"datum": -1.2, "type": "quantitative", "scale": {"domain": [-1.74, 123.82], "nice": false, "zero": false, "padding": 0}, "axis": null}, "y": {"datum": 176.15, "type": "quantitative"}, "text": {"field": "txt"}}},
   {"data": {"name": "levels"}, "transform": [{"filter": "datum.p == 'price'"}], "mark": {"type": "rule", "strokeWidth": 1.2, "yOffset": -1},
    "encoding": {"x": {"datum": -1.74, "type": "quantitative", "scale": {"domain": [-1.74, 123.82], "nice": false, "zero": false, "padding": 0}, "axis": null}, "x2": {"datum": 116}, "y": {"field": "v", "type": "quantitative"},
     "color": {"field": "k", "type": "nominal", "scale": {"domain": ["res", "sup"], "range": ["#e8202a", "#2828b0"]}, "legend": null}}},
   {"data": {"name": "levels"}, "transform": [{"filter": "datum.p == 'price'"}], "mark": {"type": "rule", "strokeWidth": 1.2, "yOffset": 1},
    "encoding": {"x": {"datum": -1.74, "type": "quantitative", "scale": {"domain": [-1.74, 123.82], "nice": false, "zero": false, "padding": 0}, "axis": null}, "x2": {"datum": 116}, "y": {"field": "v", "type": "quantitative"},
     "color": {"field": "k", "type": "nominal", "scale": {"domain": ["res", "sup"], "range": ["#e8202a", "#2828b0"]}, "legend": null}}},
   {"data": {"name": "ma"}, "transform": [{"filter": "datum.m == 3"}], "mark": {"type": "line", "strokeWidth": 2, "strokeDash": [7, 4]},
    "encoding": {"x": {"field": "i", "type": "quantitative", "scale": {"domain": [-1.74, 123.82], "nice": false, "zero": false, "padding": 0}, "axis": null}, "y": {"field": "v", "type": "quantitative"}, "detail": {"field": "s"}, "order": {"field": "i"},
     "color": {"field": "t", "type": "nominal", "scale": {"domain": ["u", "d"], "range": ["#7e2d8c", "#1a1a1a"]}, "legend": null}}},
   {"data": {"name": "ma"}, "transform": [{"filter": "datum.m == 2"}], "mark": {"type": "line", "strokeWidth": 2, "strokeDash": [7, 4]},
    "encoding": {"x": {"field": "i", "type": "quantitative", "scale": {"domain": [-1.74, 123.82], "nice": false, "zero": false, "padding": 0}, "axis": null}, "y": {"field": "v", "type": "quantitative"}, "detail": {"field": "s"}, "order": {"field": "i"},
     "color": {"field": "t", "type": "nominal", "scale": {"domain": ["u", "d"], "range": ["#16166e", "#ee2020"]}, "legend": null}}},
   {"data": {"name": "ma"}, "transform": [{"filter": "datum.m == 1"}], "mark": {"type": "line", "strokeWidth": 2},
    "encoding": {"x": {"field": "i", "type": "quantitative", "scale": {"domain": [-1.74, 123.82], "nice": false, "zero": false, "padding": 0}, "axis": null}, "y": {"field": "v", "type": "quantitative"}, "detail": {"field": "s"}, "order": {"field": "i"},
     "color": {"field": "t", "type": "nominal", "scale": {"domain": ["u", "d"], "range": ["#1e8c1e", "#f01818"]}, "legend": null}}},
   {"data": {"name": "daily"}, "mark": {"type": "rule", "strokeWidth": 1},
    "encoding": {"x": {"field": "i", "type": "quantitative", "scale": {"domain": [-1.74, 123.82], "nice": false, "zero": false, "padding": 0}, "axis": null}, "y": {"field": "l", "type": "quantitative"}, "y2": {"field": "h"},
     "color": {"field": "sg", "type": "nominal", "scale": {"domain": ["b", "s"], "range": ["#0a0ab8", "#e81010"]}, "legend": null}}},
   {"data": {"name": "daily"}, "mark": {"type": "bar", "size": 7},
    "encoding": {"x": {"field": "i", "type": "quantitative", "scale": {"domain": [-1.74, 123.82], "nice": false, "zero": false, "padding": 0}, "axis": null}, "y": {"field": "o", "type": "quantitative"}, "y2": {"field": "c"},
     "color": {"field": "sg", "type": "nominal", "scale": {"domain": ["b", "s"], "range": ["#0c0cd6", "#f01010"]}, "legend": null}}},
   {"data": {"name": "levels"}, "transform": [{"filter": "datum.p == 'price'"}], "mark": {"type": "text", "fontSize": 13, "fontWeight": "bold", "align": "center", "baseline": "middle", "clip": false},
    "encoding": {"x": {"datum": 119.2, "type": "quantitative", "scale": {"domain": [-1.74, 123.82], "nice": false, "zero": false, "padding": 0}, "axis": null}, "y": {"field": "v", "type": "quantitative"}, "text": {"field": "n"},
     "color": {"field": "k", "type": "nominal", "scale": {"domain": ["res", "sup"], "range": ["#e8202a", "#2828b0"]}, "legend": null}}},
   {"data": {"name": "flags"}, "transform": [{"filter": "datum.p == 'price'"}], "mark": {"type": "point", "shape": "M-1,0L-0.8,-0.3L1,-0.3L1,0.3L-0.8,0.3Z", "size": 1936, "filled": true, "opacity": 1, "clip": false},
    "encoding": {"x": {"datum": 127.2, "type": "quantitative", "scale": {"domain": [-1.74, 123.82], "nice": false, "zero": false, "padding": 0}, "axis": null}, "y": {"field": "v", "type": "quantitative"},
     "color": {"field": "k", "type": "nominal", "scale": {"domain": ["close", "sma1", "sma2", "sma3", "stochD", "stochK", "wK", "vol"], "range": ["#000000", "#ee1111", "#ee1111", "#7e2d8c", "#3399ee", "#0a0aa8", "#ee1111", "#ee1111"]}, "legend": null}}},
   {"data": {"name": "flags"}, "transform": [{"filter": "datum.p == 'price'"}], "mark": {"type": "text", "color": "#ffffff", "fontSize": 11.5, "align": "center", "baseline": "middle", "dx": 2, "clip": false},
    "encoding": {"x": {"datum": 127.2, "type": "quantitative", "scale": {"domain": [-1.74, 123.82], "nice": false, "zero": false, "padding": 0}, "axis": null}, "y": {"field": "v", "type": "quantitative"}, "text": {"field": "txt"}}}
  ]
 },
 {
  "width": 959, "height": 202,
  "resolve": {"scale": {"color": "independent"}},
  "layer": [
   {"data": {"name": "bands"}, "mark": {"type": "rect"},
    "encoding": {"x": {"field": "s", "type": "quantitative", "scale": {"domain": [-1.74, 123.82], "nice": false, "zero": false, "padding": 0}, "axis": null}, "x2": {"field": "e"},
     "y": {"datum": 106.0, "type": "quantitative", "scale": {"domain": [-4.2, 106.0], "nice": false, "zero": false, "padding": 0}, "axis": {"orient": "right", "values": [0, 20, 40, 60, 80, 100], "tickCount": 50, "format": "d", "title": null, "labelOverlap": false}},
     "y2": {"datum": -4.2},
     "color": {"field": "ph", "type": "nominal", "scale": {"domain": ["up", "down"], "range": ["#d8e0f5", "#ffd0e8"]}, "legend": null}}},
   {"data": {"name": "hgrid"}, "transform": [{"filter": "datum.p == 'd'"}], "mark": {"type": "rule", "color": "#ffffff", "strokeWidth": 1, "opacity": 0.8},
    "encoding": {"y": {"field": "v", "type": "quantitative"}}},
   {"data": {"name": "months"}, "mark": {"type": "rule", "color": "#ffffff", "strokeWidth": 1, "opacity": 0.8},
    "encoding": {"x": {"field": "t", "type": "quantitative", "scale": {"domain": [-1.74, 123.82], "nice": false, "zero": false, "padding": 0}, "axis": null}}},
   {"data": {"name": "levels"}, "transform": [{"filter": "datum.p == 'd'"}], "mark": {"type": "rule", "strokeWidth": 1.8, "strokeDash": [6, 4]},
    "encoding": {"y": {"field": "v", "type": "quantitative"},
     "color": {"field": "k", "type": "nominal", "scale": {"domain": ["ob", "os"], "range": ["#1f7a1f", "#dd1818"]}, "legend": null}}},
   {"data": {"name": "labels"}, "transform": [{"filter": "datum.p == 'd'"}], "mark": {"type": "text", "align": "left", "baseline": "middle", "fontSize": 11, "color": "#000000"},
    "encoding": {"x": {"datum": -1.2, "type": "quantitative", "scale": {"domain": [-1.74, 123.82], "nice": false, "zero": false, "padding": 0}, "axis": null}, "y": {"datum": 96.6, "type": "quantitative"}, "text": {"field": "txt"}}},
   {"data": {"name": "stochd"}, "transform": [{"filter": "datum.p == 'd'"}], "mark": {"type": "line", "strokeWidth": 3, "strokeDash": [7, 4], "color": "#3399ee"},
    "encoding": {"x": {"field": "i", "type": "quantitative", "scale": {"domain": [-1.74, 123.82], "nice": false, "zero": false, "padding": 0}, "axis": null}, "y": {"field": "v", "type": "quantitative"}, "order": {"field": "i"}}},
   {"data": {"name": "stoch"}, "transform": [{"filter": "datum.p == 'd'"}], "mark": {"type": "line", "strokeWidth": 3.5},
    "encoding": {"x": {"field": "i", "type": "quantitative", "scale": {"domain": [-1.74, 123.82], "nice": false, "zero": false, "padding": 0}, "axis": null}, "y": {"field": "v", "type": "quantitative"}, "detail": {"field": "s"}, "order": {"field": "i"},
     "color": {"field": "t", "type": "nominal", "scale": {"domain": ["u", "d"], "range": ["#0000e0", "#ff0000"]}, "legend": null}}},
   {"data": {"name": "flags"}, "transform": [{"filter": "datum.p == 'd'"}], "mark": {"type": "point", "shape": "M-1,0L-0.78,-0.36L1,-0.36L1,0.36L-0.78,0.36Z", "size": 1296, "filled": true, "opacity": 1, "clip": false},
    "encoding": {"x": {"datum": 126.44, "type": "quantitative", "scale": {"domain": [-1.74, 123.82], "nice": false, "zero": false, "padding": 0}, "axis": null}, "y": {"field": "v", "type": "quantitative"},
     "color": {"field": "k", "type": "nominal", "scale": {"domain": ["close", "sma1", "sma2", "sma3", "stochD", "stochK", "wK", "vol"], "range": ["#000000", "#ee1111", "#ee1111", "#7e2d8c", "#3399ee", "#0a0aa8", "#ee1111", "#ee1111"]}, "legend": null}}},
   {"data": {"name": "flags"}, "transform": [{"filter": "datum.p == 'd'"}], "mark": {"type": "text", "color": "#ffffff", "fontSize": 11.5, "align": "center", "baseline": "middle", "dx": 2, "clip": false},
    "encoding": {"x": {"datum": 126.44, "type": "quantitative", "scale": {"domain": [-1.74, 123.82], "nice": false, "zero": false, "padding": 0}, "axis": null}, "y": {"field": "v", "type": "quantitative"}, "text": {"field": "txt"}}}
  ]
 },
 {
  "width": 959, "height": 120,
  "resolve": {"scale": {"color": "independent"}},
  "layer": [
   {"data": {"name": "bands"}, "mark": {"type": "rect"},
    "encoding": {"x": {"field": "s", "type": "quantitative", "scale": {"domain": [-1.74, 123.82], "nice": false, "zero": false, "padding": 0}, "axis": null}, "x2": {"field": "e"},
     "y": {"datum": 94.23, "type": "quantitative", "scale": {"domain": [8.83, 94.23], "nice": false, "zero": false, "padding": 0}, "axis": {"orient": "right", "values": [20, 40, 60, 80], "tickCount": 50, "format": "d", "title": null, "labelOverlap": false}},
     "y2": {"datum": 8.83},
     "color": {"field": "ph", "type": "nominal", "scale": {"domain": ["up", "down"], "range": ["#d8e0f5", "#ffd0e8"]}, "legend": null}}},
   {"data": {"name": "hgrid"}, "transform": [{"filter": "datum.p == 'w'"}], "mark": {"type": "rule", "color": "#ffffff", "strokeWidth": 1, "opacity": 0.8},
    "encoding": {"y": {"field": "v", "type": "quantitative"}}},
   {"data": {"name": "months"}, "mark": {"type": "rule", "color": "#ffffff", "strokeWidth": 1, "opacity": 0.8},
    "encoding": {"x": {"field": "t", "type": "quantitative", "scale": {"domain": [-1.74, 123.82], "nice": false, "zero": false, "padding": 0}, "axis": null}}},
   {"data": {"name": "levels"}, "transform": [{"filter": "datum.p == 'w'"}], "mark": {"type": "rule", "strokeWidth": 1.8, "strokeDash": [6, 4]},
    "encoding": {"y": {"field": "v", "type": "quantitative"},
     "color": {"field": "k", "type": "nominal", "scale": {"domain": ["ob", "os"], "range": ["#1f7a1f", "#dd1818"]}, "legend": null}}},
   {"data": {"name": "labels"}, "transform": [{"filter": "datum.p == 'w'"}], "mark": {"type": "text", "align": "left", "baseline": "middle", "fontSize": 11, "color": "#000000"},
    "encoding": {"x": {"datum": -1.2, "type": "quantitative", "scale": {"domain": [-1.74, 123.82], "nice": false, "zero": false, "padding": 0}, "axis": null}, "y": {"datum": 81.9, "type": "quantitative"}, "text": {"field": "txt"}}},
   {"data": {"name": "stochd"}, "transform": [{"filter": "datum.p == 'w'"}], "mark": {"type": "line", "strokeWidth": 3, "strokeDash": [7, 4], "color": "#3399ee"},
    "encoding": {"x": {"field": "i", "type": "quantitative", "scale": {"domain": [-1.74, 123.82], "nice": false, "zero": false, "padding": 0}, "axis": null}, "y": {"field": "v", "type": "quantitative"}, "order": {"field": "i"}}},
   {"data": {"name": "stoch"}, "transform": [{"filter": "datum.p == 'w'"}], "mark": {"type": "line", "strokeWidth": 4},
    "encoding": {"x": {"field": "i", "type": "quantitative", "scale": {"domain": [-1.74, 123.82], "nice": false, "zero": false, "padding": 0}, "axis": null}, "y": {"field": "v", "type": "quantitative"}, "detail": {"field": "s"}, "order": {"field": "i"},
     "color": {"field": "t", "type": "nominal", "scale": {"domain": ["u", "d"], "range": ["#0000c0", "#ff0000"]}, "legend": null}}},
   {"data": {"name": "flags"}, "transform": [{"filter": "datum.p == 'w'"}], "mark": {"type": "point", "shape": "M-1,0L-0.78,-0.36L1,-0.36L1,0.36L-0.78,0.36Z", "size": 1296, "filled": true, "opacity": 1, "clip": false},
    "encoding": {"x": {"datum": 126.44, "type": "quantitative", "scale": {"domain": [-1.74, 123.82], "nice": false, "zero": false, "padding": 0}, "axis": null}, "y": {"field": "v", "type": "quantitative"},
     "color": {"field": "k", "type": "nominal", "scale": {"domain": ["close", "sma1", "sma2", "sma3", "stochD", "stochK", "wK", "vol"], "range": ["#000000", "#ee1111", "#ee1111", "#7e2d8c", "#3399ee", "#0a0aa8", "#ee1111", "#ee1111"]}, "legend": null}}},
   {"data": {"name": "flags"}, "transform": [{"filter": "datum.p == 'w'"}], "mark": {"type": "text", "color": "#ffffff", "fontSize": 11.5, "align": "center", "baseline": "middle", "dx": 2, "clip": false},
    "encoding": {"x": {"datum": 126.44, "type": "quantitative", "scale": {"domain": [-1.74, 123.82], "nice": false, "zero": false, "padding": 0}, "axis": null}, "y": {"field": "v", "type": "quantitative"}, "text": {"field": "txt"}}}
  ]
 },
 {
  "width": 959, "height": 97,
  "resolve": {"scale": {"color": "independent"}},
  "layer": [
   {"data": {"name": "bands"}, "mark": {"type": "rect"},
    "encoding": {"x": {"field": "s", "type": "quantitative", "scale": {"domain": [-1.74, 123.82], "nice": false, "zero": false, "padding": 0},
      "axis": {"orient": "bottom", "values": [19.5, 41.4, 63.4, 84.2, 106.1], "tickCount": 50, "labelExpr": "datum.value < 30 ? 'Dec' : datum.value < 50 ? '12' : datum.value < 70 ? 'Feb' : datum.value < 95 ? 'Mar' : 'Apr'", "title": null, "tickSize": 5, "labelPadding": 3, "labelFlush": false, "labelOverlap": false}},
     "x2": {"field": "e"},
     "y": {"datum": 49.43, "type": "quantitative", "scale": {"domain": [-3.49, 49.43], "nice": false, "zero": false, "padding": 0}, "axis": {"orient": "right", "values": [0, 20, 40], "tickCount": 50, "labelExpr": "datum.value == 0 ? '0' : datum.value + 'M'", "title": null, "labelOverlap": false}},
     "y2": {"datum": -3.49},
     "color": {"field": "ph", "type": "nominal", "scale": {"domain": ["up", "down"], "range": ["#d8e0f5", "#ffd0e8"]}, "legend": null}}},
   {"data": {"name": "months"}, "mark": {"type": "rule", "color": "#ffffff", "strokeWidth": 1, "opacity": 0.8},
    "encoding": {"x": {"field": "t", "type": "quantitative", "scale": {"padding": 0}}}},
   {"data": {"name": "daily"}, "mark": {"type": "bar", "size": 5},
    "encoding": {"x": {"field": "i", "type": "quantitative", "scale": {"padding": 0}}, "y": {"field": "vol", "type": "quantitative"}, "y2": {"datum": 0},
     "color": {"field": "vd", "type": "nominal", "scale": {"domain": ["g", "r"], "range": ["#22ee22", "#ee1111"]}, "legend": null}}},
   {"data": {"name": "vsma"}, "mark": {"type": "line", "strokeWidth": 1.2, "color": "#4d4dd6"},
    "encoding": {"x": {"field": "i", "type": "quantitative"}, "y": {"field": "v", "type": "quantitative"}, "order": {"field": "i"}}},
   {"data": {"name": "labels"}, "transform": [{"filter": "datum.p == 'vol'"}], "mark": {"type": "text", "align": "left", "baseline": "middle", "fontSize": 11, "color": "#000000"},
    "encoding": {"x": {"datum": -1.2, "type": "quantitative"}, "y": {"datum": 40.0, "type": "quantitative"}, "text": {"field": "txt"}}},
   {"data": {"name": "labels"}, "transform": [{"filter": "datum.p == 'copy'"}], "mark": {"type": "text", "align": "left", "baseline": "middle", "fontSize": 11, "color": "#000000"},
    "encoding": {"x": {"datum": -1.5, "type": "quantitative"}, "y": {"datum": 0.3, "type": "quantitative"}, "text": {"field": "txt"}}},
   {"data": {"name": "flags"}, "transform": [{"filter": "datum.p == 'vol'"}], "mark": {"type": "point", "shape": "M-1,0L-0.73,-0.43L1,-0.43L1,0.43L-0.73,0.43Z", "size": 900, "filled": true, "opacity": 1, "clip": false},
    "encoding": {"x": {"datum": 126.04, "type": "quantitative"}, "y": {"field": "v", "type": "quantitative"},
     "color": {"field": "k", "type": "nominal", "scale": {"domain": ["close", "sma1", "sma2", "sma3", "stochD", "stochK", "wK", "vol"], "range": ["#000000", "#ee1111", "#ee1111", "#7e2d8c", "#3399ee", "#0a0aa8", "#ee1111", "#ee1111"]}, "legend": null}}},
   {"data": {"name": "flags"}, "transform": [{"filter": "datum.p == 'vol'"}], "mark": {"type": "text", "color": "#ffffff", "fontSize": 11.5, "align": "center", "baseline": "middle", "dx": 2, "clip": false},
    "encoding": {"x": {"datum": 126.04, "type": "quantitative"}, "y": {"field": "v", "type": "quantitative"}, "text": {"field": "txt"}}}
  ]
 }
]
}
